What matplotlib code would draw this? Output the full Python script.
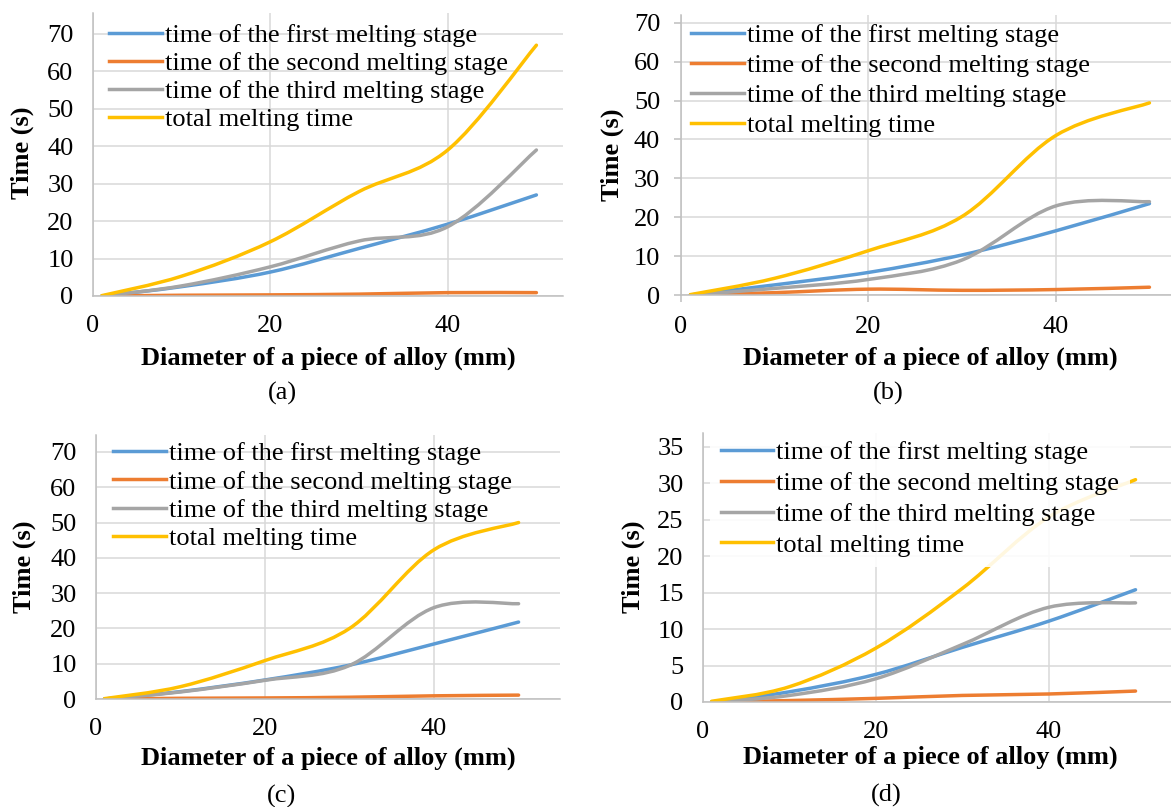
import matplotlib.pyplot as plt
import numpy as np
from matplotlib.path import Path
from matplotlib.patches import PathPatch
from matplotlib.lines import Line2D

plt.rcParams['font.family'] = ['Liberation Serif', 'DejaVu Serif']

W, H = 1171, 807

diameter = [1, 10, 20, 30, 40, 50]
series_names = ["time of the first melting stage", "time of the second melting stage",
                "time of the third melting stage", "total melting time"]
colors = ["#5B9BD5", "#ED7D31", "#A5A5A5", "#FFC000"]

# (a)
a_first = [0.0, 2.5, 6.4, 12.7, 19.2, 27.0]
a_second = [0.0, 0.2, 0.3, 0.5, 0.9, 0.9]
a_third = [0.0, 2.7, 7.8, 14.7, 18.5, 39.0]
a_total = [0.1, 5.3, 14.5, 27.9, 39.0, 67.0]
# (b)
b_first = [0.0, 2.6, 5.8, 10.3, 16.5, 23.5]
b_second = [0.0, 0.6, 1.5, 1.2, 1.4, 2.0]
b_third = [0.0, 1.7, 4.0, 9.0, 22.9, 24.0]
b_total = [0.1, 4.3, 11.4, 20.2, 41.0, 49.4]
# (c)
c_first = [0.0, 2.1, 5.4, 9.6, 15.6, 21.8]
c_second = [0.0, 0.2, 0.3, 0.5, 0.9, 1.1]
c_third = [0.0, 2.0, 5.3, 9.5, 25.9, 27.0]
c_total = [0.1, 3.5, 10.9, 20.0, 42.3, 50.0]
# (d)
d_first = [0.0, 1.4, 3.8, 7.5, 11.1, 15.4]
d_second = [0.0, 0.2, 0.5, 0.9, 1.1, 1.5]
d_third = [0.0, 0.9, 3.2, 7.9, 13.0, 13.6]
d_total = [0.1, 2.1, 7.4, 15.6, 25.4, 30.5]


def rect(left, top, right, bottom):
    return [left / W, 1 - bottom / H, (right - left) / W, (bottom - top) / H]


def smooth_path(x, y):
    # Excel style smoothed line: cubic Bezier segments through the points
    pts = np.column_stack([x, y]).astype(float)
    n = len(pts)
    verts = [pts[0]]
    codes = [Path.MOVETO]
    for i in range(n - 1):
        p0 = pts[i - 1] if i > 0 else pts[i]
        p1 = pts[i]
        p2 = pts[i + 1]
        p3 = pts[i + 2] if i + 2 < n else pts[i + 1]
        verts += [p1 + (p2 - p0) / 6, p2 - (p3 - p1) / 6, p2]
        codes += [Path.CURVE4] * 3
    return Path(verts, codes)


panels = [
    dict(data=[a_first, a_second, a_third, a_total], box=(93, 13, 563, 296), xmax=53, ymax=75.6,
         yticks=range(0, 71, 10), leg=(109, 24), lsp=0.17, ylab=(22, 153), xlab=(328, 358),
         cap=("(a)", 282, 393), frame=False, ticks=False),
    dict(data=[b_first, b_second, b_third, b_total], box=(681, 15, 1171, 295), xmax=52.3, ymax=72,
         yticks=range(0, 71, 10), leg=(691, 24), lsp=0.24, ylab=(612, 155), xlab=(930, 358),
         cap=("(b)", 888, 393), frame=False, ticks=True),
    dict(data=[c_first, c_second, c_third, c_total], box=(96, 435, 560, 699), xmax=54.9, ymax=74.8,
         yticks=range(0, 71, 10), leg=(113, 442), lsp=0.18, ylab=(24, 567), xlab=(328, 758),
         cap=("(c)", 282, 796), frame=False, ticks=False),
    dict(data=[d_first, d_second, d_third, d_total], box=(703, 433, 1171, 702), xmax=54.1, ymax=36.9,
         yticks=range(0, 36, 5), leg=(710, 430), lsp=0.28, ylab=(633, 567), xlab=(930, 757),
         cap=("(d)", 886, 795), frame=True, ticks=False),
]

fig = plt.figure(figsize=(W / 100, H / 100), dpi=100)

for p in panels:
    ax = fig.add_axes(rect(*p["box"]))
    ax.set_xlim(0, p["xmax"])
    ax.set_ylim(0, p["ymax"])
    ax.set_xticks([0, 20, 40])
    ax.set_yticks(list(p["yticks"]))
    ax.grid(True, color="#D9D9D9", lw=1.1)
    ax.set_axisbelow(True)
    for s in ["top", "right"]:
        ax.spines[s].set_visible(False)
    for s in ["left", "bottom"]:
        ax.spines[s].set_color("#BFBFBF")
        ax.spines[s].set_linewidth(1.1)
    if p["ticks"]:
        ax.tick_params(length=5, width=1.1, color="#BFBFBF", direction="out",
                       labelsize=19, labelcolor="black", pad=10)
    else:
        ax.tick_params(length=0, labelsize=19, labelcolor="black", pad=14)

    handles = []
    for vals, name, c in zip(p["data"], series_names, colors):
        patch = PathPatch(smooth_path(diameter, vals), fill=False, edgecolor=c, lw=2.5,
                          capstyle="round", joinstyle="round")
        ax.add_patch(patch)
        handles.append(Line2D([], [], color=c, lw=2.5, label=name))

    lx, ly = p["leg"]
    leg = ax.legend(handles=handles, loc="upper left",
                    bbox_to_anchor=(lx / W, 1 - ly / H), bbox_transform=fig.transFigure,
                    fontsize=19, frameon=p["frame"], borderaxespad=0,
                    borderpad=0.4 if p["frame"] else 0, handlelength=2.0,
                    handletextpad=0.12, labelspacing=p["lsp"])
    if p["frame"]:
        leg.get_frame().set_facecolor("white")
        leg.get_frame().set_edgecolor("none")
        leg.get_frame().set_alpha(0.88)

    fig.text(p["ylab"][0] / W, 1 - p["ylab"][1] / H, "Time (s)", rotation=90,
             fontsize=19, fontweight="bold", ha="center", va="center")
    fig.text(p["xlab"][0] / W, 1 - p["xlab"][1] / H, "Diameter of a piece of alloy (mm)",
             fontsize=19, fontweight="bold", ha="center", va="center")
    cap, cx, cy = p["cap"]
    fig.text(cx / W, 1 - cy / H, cap, fontsize=19, ha="center", va="center")

fig.savefig("out.png", dpi=100)
